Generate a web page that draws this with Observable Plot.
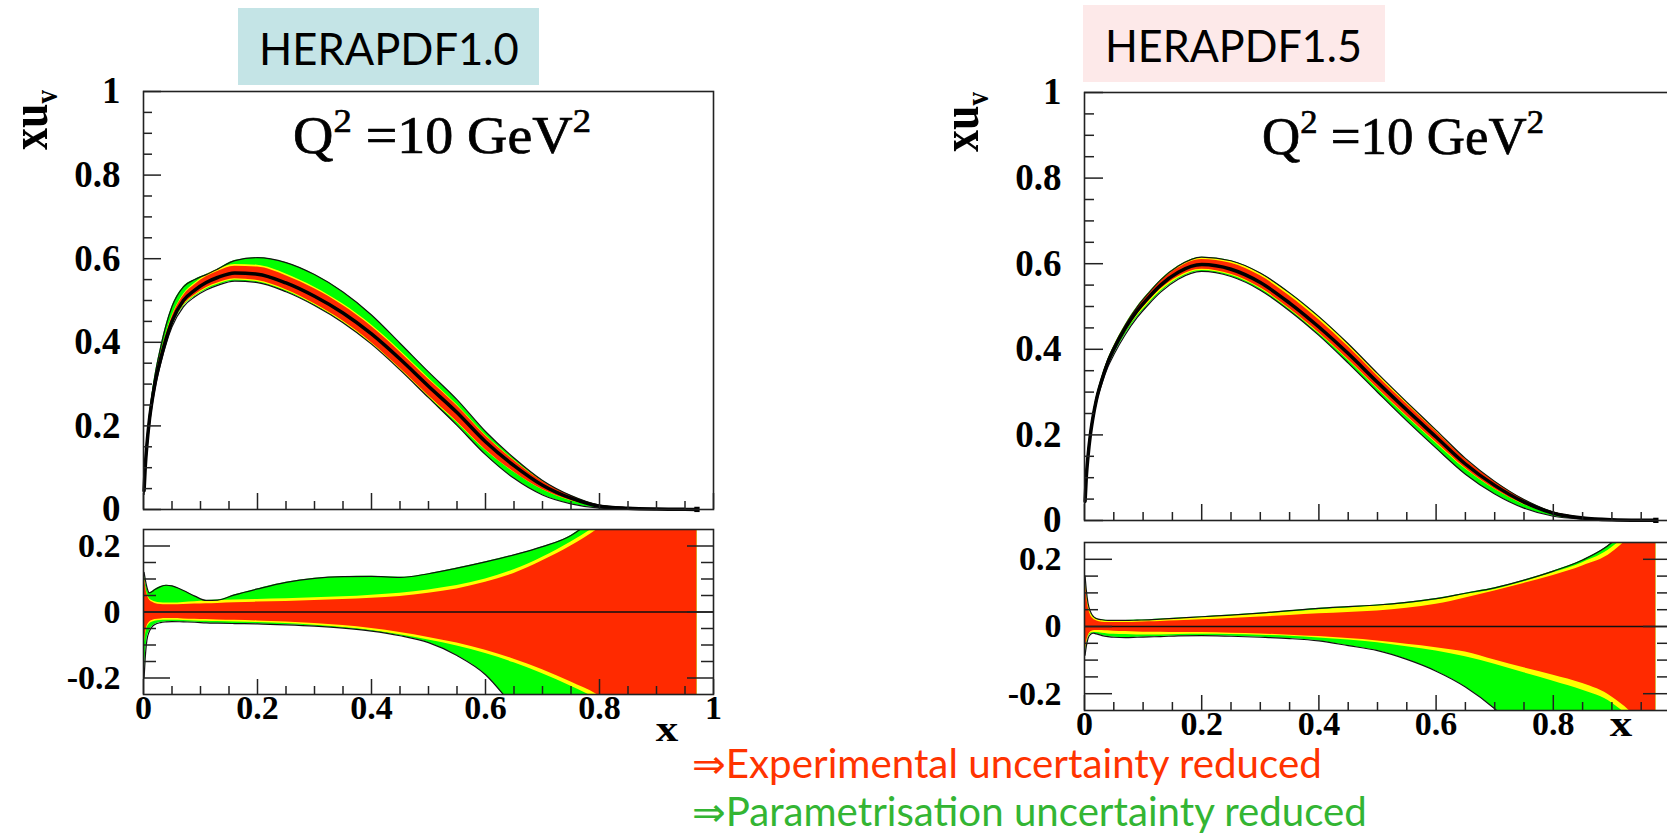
<!DOCTYPE html>
<html><head><meta charset="utf-8">
<script src="https://cdn.jsdelivr.net/npm/d3@7"></script>
<script src="https://cdn.jsdelivr.net/npm/@observablehq/plot@0.6"></script>
<style>
html,body{margin:0;padding:0;background:#fff;overflow:hidden;width:1667px;height:836px;}
#page{position:relative;width:1667px;height:836px;overflow:hidden;background:#fff;}
#page > svg{position:absolute;}
</style></head><body><div id="page"></div>
<script>
// ---------- data: HERAPDF1.0 (left) ----------
const X10 = [0.001,0.003,0.006,0.01,0.015,0.02,0.03,0.04,0.05,0.07,0.09,0.11,0.13,0.16,0.2,0.25,0.3,0.35,0.4,0.45,0.5,0.55,0.6,0.65,0.7,0.75,0.8,0.85,0.9,0.95,0.971];
const xuv10 = [0.045,0.10,0.155,0.21,0.26,0.30,0.36,0.41,0.45,0.50,0.525,0.543,0.555,0.566,0.563,0.542,0.51,0.47,0.42,0.36,0.295,0.232,0.162,0.105,0.058,0.027,0.008,0.003,0.001,0.0003,0.0002];
const expUp10 = [0.116,0.085,0.055,0.038,0.03,0.026,0.023,0.022,0.022,0.023,0.024,0.025,0.026,0.028,0.03,0.032,0.035,0.038,0.042,0.047,0.057,0.07,0.09,0.117,0.155,0.2,0.255,0.33,0.42,0.55,0.65];
const modUp10 = [0.118,0.088,0.058,0.042,0.035,0.031,0.028,0.027,0.027,0.029,0.031,0.033,0.034,0.036,0.038,0.04,0.043,0.046,0.051,0.057,0.067,0.08,0.10,0.128,0.166,0.212,0.268,0.345,0.44,0.57,0.67];
const parUp10 = [0.12,0.10,0.075,0.058,0.062,0.068,0.077,0.081,0.079,0.065,0.048,0.035,0.036,0.052,0.07,0.09,0.102,0.107,0.108,0.105,0.116,0.133,0.152,0.173,0.198,0.232,0.30,0.40,0.50,0.60,0.70];
const expDn10 = [-0.10,-0.07,-0.045,-0.032,-0.026,-0.023,-0.021,-0.02,-0.02,-0.021,-0.022,-0.023,-0.024,-0.025,-0.027,-0.03,-0.035,-0.041,-0.05,-0.062,-0.077,-0.094,-0.116,-0.143,-0.175,-0.212,-0.255,-0.33,-0.42,-0.55,-0.65];
const modDn10 = [-0.105,-0.075,-0.05,-0.037,-0.031,-0.028,-0.026,-0.025,-0.025,-0.026,-0.027,-0.028,-0.029,-0.03,-0.032,-0.035,-0.04,-0.047,-0.056,-0.069,-0.085,-0.103,-0.126,-0.154,-0.187,-0.225,-0.27,-0.345,-0.44,-0.57,-0.67];
const parDn10 = [-0.20,-0.14,-0.085,-0.06,-0.045,-0.038,-0.032,-0.03,-0.029,-0.03,-0.031,-0.033,-0.034,-0.035,-0.036,-0.039,-0.043,-0.049,-0.058,-0.072,-0.093,-0.132,-0.19,-0.29,-0.40,-0.5,-0.6,-0.7,-0.8,-0.9,-0.95];

// ---------- data: HERAPDF1.5 (right) ----------
const X15 = [0.001,0.003,0.006,0.01,0.015,0.02,0.03,0.04,0.05,0.07,0.09,0.11,0.13,0.16,0.2,0.25,0.3,0.35,0.4,0.45,0.5,0.55,0.6,0.65,0.7,0.75,0.8,0.85,0.9,0.95,0.975];
const xuv15 = [0.045,0.10,0.15,0.20,0.245,0.28,0.33,0.37,0.40,0.45,0.49,0.522,0.55,0.58,0.598,0.587,0.556,0.508,0.452,0.39,0.323,0.258,0.195,0.132,0.082,0.043,0.017,0.006,0.0018,0.0005,0.0003];
const expUp15 = [0.145,0.10,0.06,0.035,0.022,0.017,0.013,0.012,0.012,0.012,0.013,0.014,0.015,0.017,0.02,0.024,0.028,0.033,0.038,0.042,0.046,0.054,0.066,0.085,0.106,0.128,0.152,0.18,0.22,0.32,0.42];
const modUp15 = [0.148,0.108,0.068,0.043,0.028,0.022,0.018,0.016,0.016,0.016,0.017,0.018,0.02,0.023,0.027,0.032,0.037,0.043,0.05,0.055,0.061,0.068,0.079,0.095,0.11,0.133,0.16,0.19,0.235,0.33,0.43];
const parUp15 = [0.15,0.11,0.07,0.045,0.03,0.024,0.02,0.018,0.018,0.018,0.019,0.02,0.022,0.025,0.029,0.034,0.04,0.047,0.054,0.059,0.064,0.072,0.083,0.099,0.115,0.138,0.165,0.198,0.25,0.35,0.45];
const expDn15 = [-0.075,-0.05,-0.03,-0.017,-0.013,-0.012,-0.012,-0.013,-0.014,-0.015,-0.016,-0.017,-0.017,-0.018,-0.018,-0.02,-0.022,-0.026,-0.03,-0.036,-0.043,-0.053,-0.063,-0.076,-0.1,-0.123,-0.145,-0.17,-0.21,-0.3,-0.4];
const modDn15 = [-0.08,-0.055,-0.034,-0.021,-0.018,-0.018,-0.02,-0.022,-0.023,-0.024,-0.025,-0.025,-0.025,-0.024,-0.023,-0.024,-0.026,-0.029,-0.034,-0.04,-0.048,-0.06,-0.073,-0.09,-0.112,-0.138,-0.163,-0.19,-0.228,-0.32,-0.42];
const parDn15 = [-0.085,-0.06,-0.036,-0.024,-0.02,-0.022,-0.027,-0.03,-0.032,-0.033,-0.032,-0.031,-0.03,-0.028,-0.027,-0.029,-0.032,-0.036,-0.043,-0.057,-0.072,-0.098,-0.133,-0.18,-0.245,-0.33,-0.42,-0.5,-0.6,-0.7,-0.75];

// ---------- ticks & labels ----------
const xMajor = [0,0.2,0.4,0.6,0.8,1];
const xMinor = [0.05,0.1,0.15,0.25,0.3,0.35,0.45,0.5,0.55,0.65,0.7,0.75,0.85,0.9,0.95];
const yMajorTop = [0,0.2,0.4,0.6,0.8,1];
const yMinorTop = [0.05,0.1,0.15,0.25,0.3,0.35,0.45,0.5,0.55,0.65,0.7,0.75,0.85,0.9,0.95];
const yMajorLow = [-0.2,0,0.2];
const yMinorLow = [-0.15,-0.1,-0.05,0.05,0.1,0.15];
const titles = ["HERAPDF1.0","HERAPDF1.5"];
const qLabel = ["Q","2"," =10 GeV","2"];
const captions = ["\u21D2Experimental uncertainty reduced","\u21D2Parametrisation uncertainty reduced"];

const GREEN = "#00ff00", YELLOW = "#ffff00", RED = "#ff2a00", INK = "#222";
const SERIF = "'Liberation Serif','Times New Roman',serif";
const SANS = "Lato,'Noto Sans','DejaVu Sans',sans-serif";
const CURVE = "monotone-x";

function topRows(X, C, eu, ed, mu, md, pu, pd) {
  return X.map((x,i) => ({x, c:C[i],
    eu:C[i]*(1+eu[i]), ed:C[i]*(1+ed[i]), mu:C[i]*(1+mu[i]), md:C[i]*(1+md[i]), pu:C[i]*(1+pu[i]), pd:C[i]*(1+pd[i])}));
}
function lowRows(X, eu, ed, mu, md, pu, pd) {
  return X.map((x,i) => ({x, eu:eu[i], ed:ed[i], mu:mu[i], md:md[i], pu:pu[i], pd:pd[i]}));
}

function panel(o) {
  const clip = !!o.clip;
  const common = {stroke: INK, strokeWidth: 1.5, fill: "#000", fontSize: o.fs, fontWeight: "bold", fontFamily: SERIF, label: null};
  const marks = [
    Plot.areaY(o.rows, {x:"x", y1:"pd", y2:"pu", fill: GREEN, curve: CURVE, clip}),
    Plot.areaY(o.rows, {x:"x", y1:"md", y2:"mu", fill: YELLOW, curve: CURVE, clip}),
    Plot.areaY(o.rows, {x:"x", y1:"ed", y2:"eu", fill: RED, curve: CURVE, clip}),
    Plot.line(o.rows, {x:"x", y:"pu", stroke:"#111", strokeWidth:1.2, curve: CURVE, clip}),
    Plot.line(o.rows, {x:"x", y:"pd", stroke:"#111", strokeWidth:1.2, curve: CURVE, clip})
  ];
  if (o.central) {
    marks.push(Plot.line(o.rows, {x:"x", y:"c", stroke:"#000", strokeWidth:3.5, curve: CURVE}));
    marks.push(Plot.dot(o.rows.slice(-1), {x:"x", y:"c", symbol:"square", r:3, fill:"#000"}));
  }
  if (o.zero) marks.push(Plot.ruleY([0], {stroke:"#111", strokeWidth:1.5}));
  marks.push(Plot.frame({stroke: INK, strokeWidth: 1.6}));
  marks.push(Plot.axisY({...common, anchor:"left", ticks:o.yMajor, tickSize:-o.yMaj, tickPadding:o.yMaj+23, tickFormat:d=>String(d)}));
  marks.push(Plot.axisY({...common, anchor:"left", ticks:o.yMinor, tickSize:-o.yMin, tickFormat:()=>""}));
  if (o.right) {
    marks.push(Plot.axisY({...common, anchor:"right", ticks:o.yMajor, tickSize:-o.yMaj, tickFormat:()=>""}));
    marks.push(Plot.axisY({...common, anchor:"right", ticks:o.yMinor, tickSize:-o.yMin, tickFormat:()=>""}));
  }
  const xfmt = o.xLabels ? (d => (o.hideLast && d === 1) ? "" : String(d)) : (() => "");
  marks.push(Plot.axisX({...common, anchor:"bottom", ticks:xMajor, tickSize:-o.xMaj, tickPadding:o.xMaj, tickFormat:xfmt}));
  marks.push(Plot.axisX({...common, anchor:"bottom", ticks:xMinor, tickSize:-o.xMin, tickFormat:()=>""}));
  const svg = Plot.plot({
    width:o.width, height:o.height,
    marginLeft:o.m[0], marginTop:o.m[1], marginRight:o.m[2], marginBottom:o.m[3],
    x:{domain:[0,1], label:null}, y:{domain:o.yDomain, label:null},
    style:{background:"transparent", overflow:"visible"},
    marks
  });
  svg.style.left = o.left + "px";
  svg.style.top = o.top + "px";
  document.getElementById("page").appendChild(svg);
  return svg;
}

const top10 = topRows(X10, xuv10, expUp10, expDn10, modUp10, modDn10, parUp10, parDn10);
const low10 = lowRows(X10, expUp10, expDn10, modUp10, modDn10, parUp10, parDn10);
const top15 = topRows(X15, xuv15, expUp15, expDn15, modUp15, modDn15, parUp15, parDn15);
const low15 = lowRows(X15, expUp15, expDn15, modUp15, modDn15, parUp15, parDn15);

// left panel
panel({rows:top10, central:true, fs:37, left:0, top:0, width:760, height:520, m:[143,91,47,11], yDomain:[0,1],
  yMajor:yMajorTop, yMinor:yMinorTop, yMaj:18, yMin:9, xMaj:16, xMin:8, xLabels:false});
panel({rows:low10, clip:true, zero:true, right:true, fs:34, left:0, top:520, width:760, height:225, m:[143,9,47,51], yDomain:[-0.25,0.25],
  yMajor:yMajorLow, yMinor:yMinorLow, yMaj:27, yMin:13, xMaj:15, xMin:8, xLabels:true});
// right panel (x = 1 falls just past the page edge)
panel({rows:top15, central:true, fs:37, left:940, top:0, width:780, height:530, m:[144,92,50,10], yDomain:[0,1],
  yMajor:yMajorTop, yMinor:yMinorTop, yMaj:19, yMin:10, xMaj:16, xMin:8, xLabels:false});
panel({rows:low15, clip:true, zero:true, right:true, fs:34, left:940, top:530, width:780, height:230, m:[144,12,50,50], yDomain:[-0.25,0.25],
  yMajor:yMajorLow, yMinor:yMinorLow, yMaj:28, yMin:14, xMaj:15, xMin:8, xLabels:true, hideLast:true});

// ---------- overlay annotations ----------
const ov = d3.select("#page").append("svg").attr("width",1667).attr("height",836).style("left","0px").style("top","0px");
function fit(sel, x, y, target) {
  const w = sel.node().getBBox().width;
  sel.attr("transform", `translate(${x},${y}) scale(${target/w},1)`);
}
// title boxes
const boxes = [{x:238,y:8,w:301,h:77,fill:"#c4e4e6",tx:259,ty:65,tw:260},{x:1083,y:5,w:302,h:77,fill:"#fde9e9",tx:1105,ty:62,tw:257}];
boxes.forEach((b,i) => {
  ov.append("rect").attr("x",b.x).attr("y",b.y).attr("width",b.w).attr("height",b.h).attr("fill",b.fill);
  const t = ov.append("text").attr("font-family",SANS).attr("font-size",44).attr("fill","#000").text(titles[i]);
  fit(t, b.tx, b.ty, b.tw);
});
// Q^2 labels
[{x:293,y:153,w:298},{x:1262,y:154,w:282}].forEach(p => {
  const t = ov.append("text").attr("font-family",SERIF).attr("font-size",52).attr("fill","#000")
    .attr("stroke","#000").attr("stroke-width",0.7);
  t.append("tspan").text(qLabel[0]);
  t.append("tspan").attr("font-size",34).attr("dy",-21).text(qLabel[1]);
  t.append("tspan").attr("dy",21).text(qLabel[2]);
  t.append("tspan").attr("font-size",34).attr("dy",-21).text(qLabel[3]);
  fit(t, p.x, p.y, p.w);
});
// y titles xu_v
[{x:47,y:150},{x:978,y:152}].forEach(p => {
  const t = ov.append("text").attr("font-family",SERIF).attr("font-weight","bold").attr("font-size",44).attr("fill","#000")
    .attr("transform",`translate(${p.x},${p.y}) rotate(-90) scale(1,1.2)`);
  t.append("tspan").text("xu");
  t.append("tspan").attr("font-size",27).attr("dy",8).text("v");
});
// x titles
[{x:667,y:741},{x:1621,y:736}].forEach(p => {
  ov.append("text").attr("font-family",SERIF).attr("font-weight","bold").attr("font-size",36).attr("fill","#000")
    .attr("text-anchor","middle").attr("transform",`translate(${p.x},${p.y}) scale(1.25,1)`).text("x");
});
// captions
[{y:778,w:630,c:"#ff3300"},{y:826,w:675,c:"#33b533"}].forEach((p,i) => {
  const t = ov.append("text").attr("font-family",SANS).attr("font-size",40).attr("fill",p.c).text(captions[i]);
  fit(t, 692, p.y, p.w);
});
</script></body></html>
